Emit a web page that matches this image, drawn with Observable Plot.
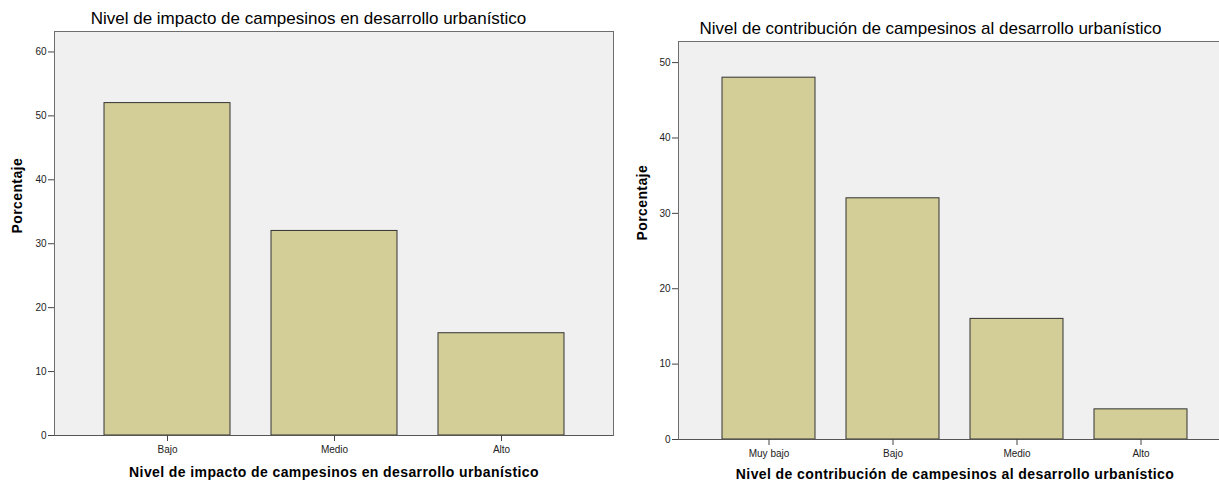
<!DOCTYPE html>
<html><head><meta charset="utf-8">
<script src="https://cdn.jsdelivr.net/npm/d3@7"></script>
<script src="https://cdn.jsdelivr.net/npm/@observablehq/plot@0.6"></script>
<style>
body{margin:0;background:#fff;}
#wrap{position:relative;width:1219px;height:480px;overflow:hidden;}
#wrap svg{position:absolute;top:0;}
</style></head><body><div id="wrap"></div>
<script>
const impactoCategorias = ["Bajo", "Medio", "Alto"];
const impactoPorcentajes = [52, 32, 16];
const contribucionCategorias = ["Muy bajo", "Bajo", "Medio", "Alto"];
const contribucionPorcentajes = [48, 32, 16, 4];
const ticksImpacto = [0, 10, 20, 30, 40, 50, 60];
const ticksContribucion = [0, 10, 20, 30, 40, 50];
const tituloImpacto = "Nivel de impacto de campesinos en desarrollo urbanístico";
const tituloContribucion = "Nivel de contribución de campesinos al desarrollo urbanístico";
const etiquetaY = "Porcentaje";

const FONT = '"Liberation Sans", Arial, sans-serif';

function chart(o) {
  const data = o.cats.map((c, i) => ({cat: c, val: o.vals[i]}));
  const svg = Plot.plot({
    width: o.width, height: 480,
    marginLeft: o.ml, marginRight: o.mr, marginTop: o.mt, marginBottom: o.mb,
    style: {fontFamily: FONT, background: "transparent", color: "#222", overflow: "visible"},
    x: {domain: o.cats, paddingInner: o.pi, paddingOuter: o.po, label: null},
    y: {domain: [0, o.ymax], label: null},
    marks: [
      Plot.frame({fill: "#f0f0f0", stroke: "#6e6e6e"}),
      Plot.barY(data, {x: "cat", y: "val", fill: "#d3ce97", stroke: "#333", strokeWidth: 1}),
      Plot.ruleY([0], {stroke: "#555"}),
      Plot.axisY({ticks: o.ticks, tickSize: 6, tickPadding: 2, fontSize: 10, label: null, stroke: "#444"}),
      Plot.axisX({tickSize: 6, tickPadding: 4, fontSize: 10, label: null, stroke: "#444"}),
      Plot.text([o.title], {text: d => d, frameAnchor: "top", dx: o.titleDx, dy: o.titleDy, lineAnchor: "bottom", fontSize: 17, fill: "#000"}),
      Plot.text([o.title], {text: d => d, frameAnchor: "bottom", dy: o.xlabDy, lineAnchor: "bottom", fontSize: 14, fontWeight: "bold", fill: "#000"}),
      Plot.text([etiquetaY], {text: d => d, frameAnchor: "left", dx: o.ylabDx, rotate: -90, fontSize: 14, fontWeight: "bold", fill: "#000"})
    ]
  });
  svg.querySelectorAll("text").forEach(t => {
    const g = t.closest("g[font-weight]");
    if (!g || g.getAttribute("font-weight") !== "bold") return;
    t.style.letterSpacing = "0.4px";
  });
  svg.style.left = o.left + "px";
  document.getElementById("wrap").appendChild(svg);
}

chart({cats: impactoCategorias, vals: impactoPorcentajes, ticks: ticksImpacto, ymax: 63.2,
  title: tituloImpacto, width: 620, left: 0, ml: 54, mr: 7, mt: 31, mb: 45, pi: 0.248, po: 0.2925,
  titleDx: -25.5, titleDy: -8, xlabDy: 41, ylabDx: -37});

chart({cats: contribucionCategorias, vals: contribucionPorcentajes, ticks: ticksContribucion, ymax: 52.8,
  title: tituloContribucion, width: 620, left: 620, ml: 58, mr: 9, mt: 41, mb: 41, pi: 0.252, po: 0.345,
  titleDx: -24.5, titleDy: -7.5, xlabDy: 39, ylabDx: -36});
</script></body></html>
